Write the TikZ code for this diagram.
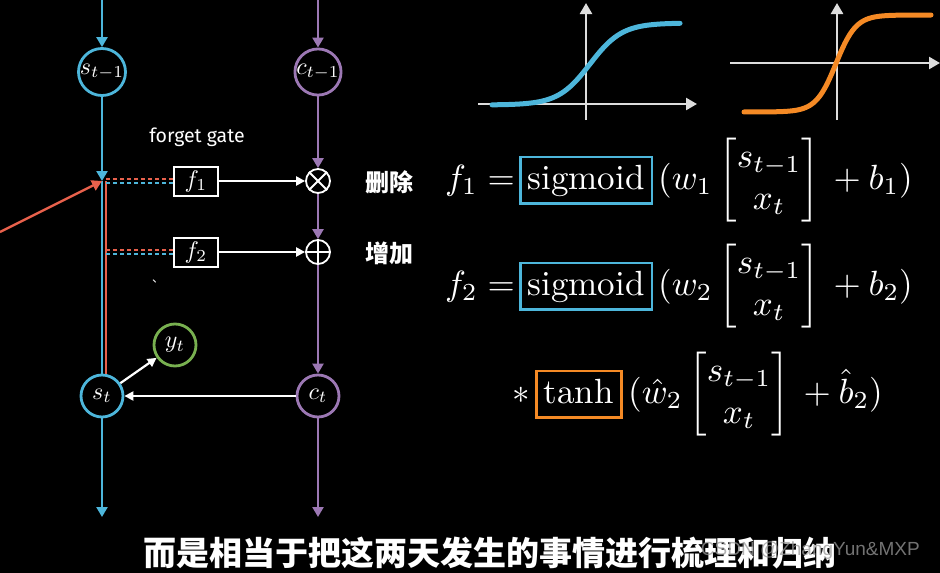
\documentclass[tikz,border=0pt]{standalone}
\usepackage{amsmath}
\usepackage{graphicx}
\usepackage{fontspec}
\usetikzlibrary{arrows.meta,calc}
\newfontfamily\cjk{Noto Sans CJK SC}
\newfontfamily\hand{Fira Sans}
\newfontfamily\wm{Liberation Sans}
\newcommand\eqscale[1]{\scalebox{3.5}{#1}}
\newcommand\lblscale[1]{\scalebox{2.4}{#1}}
\definecolor{cblue}{HTML}{4DB6DB}
\definecolor{cpurple}{HTML}{9C78B4}
\definecolor{cred}{HTML}{E8614C}
\definecolor{cgreen}{HTML}{78B050}
\definecolor{corange}{HTML}{F58A25}
\definecolor{axisgray}{HTML}{DDDDDD}
\tikzset{
  tip/.style={-{Triangle[width=11pt,length=10pt]}},
  wtip/.style={-{Triangle[width=9pt,length=9pt]}},
  cb/.style={circle, draw=cblue, line width=2.8pt, minimum size=42pt, inner sep=0pt, fill=black},
  cp/.style={cb, draw=cpurple},
  cg/.style={cb, draw=cgreen},
  gate/.style={draw=white, line width=2pt, minimum width=44pt, minimum height=29pt, inner sep=0pt},
  op/.style={circle, draw=white, line width=1.8pt, minimum size=24pt, inner sep=0pt, fill=black},
  bline/.style={cblue, line width=2.4pt},
  pline/.style={cpurple, line width=2.4pt},
  rline/.style={cred, line width=2.4pt},
  wline/.style={white, line width=2.2pt},
  rdash/.style={cred, line width=2.2pt, dash pattern=on 4pt off 3pt},
  bdash/.style={cblue, line width=2.2pt, dash pattern=on 4pt off 3pt},
  cjklabel/.style={font=\cjk\bfseries\fontsize{24}{28}\selectfont, inner sep=0pt},
  eq/.style={inner sep=0pt},
  sbox/.style={eq, draw=cblue, line width=2.6pt, text height=24.5pt, text depth=7pt, inner xsep=7.5pt, inner ysep=7.5pt},
  tbox/.style={sbox, draw=corange},
  axis/.style={axisgray, line width=2.5pt, -{Triangle[width=12pt,length=11pt]}},
}
\begin{document}
\begin{tikzpicture}[x=1pt,y=-1pt,color=white]
\fill[black] (0,0) rectangle (940,573);
\useasboundingbox (0,0) rectangle (940,573);
% ---------- left diagram ----------
\node[cb] (s0) at (102,72) {\lblscale{$s_{t-1}$}};
\node[cp] (c0) at (318,72) {\lblscale{$c_{t-1}$}};
\node[cb] (s1) at (102,396) {\lblscale{$s_t$}};
\node[cp] (c1) at (318,396) {\lblscale{$c_t$}};
\node[cg] (y) at (175,345) {\lblscale{$y_t$}};
\node[gate] (f1) at (196,181) {\lblscale{$f_1$}};
\node[gate] (f2) at (196,252) {\lblscale{$f_2$}};
\node[op] (mul) at (318,181) {};
\node[op] (add) at (318,252) {};
\draw[white, line width=1.8pt] (mul.north west) -- (mul.south east) (mul.north east) -- (mul.south west);
\draw[white, line width=1.8pt] (add.north) -- (add.south) (add.west) -- (add.east);
\coordinate (btop) at (102,0);
\coordinate (ptop) at (318,0);
\coordinate (bbot) at (102,517);
\coordinate (pbot) at (318,517);
\coordinate (j) at (102,181);
\coordinate (rj) at (106,181);
\coordinate (rstart) at (0,232);
% blue path
\draw[bline,tip] (btop) -- (s0);
\draw[bline,tip] (s0) -- (j);
\draw[bline] (j) -- (s1);
\draw[bline,tip] (s1) -- (bbot);
% red path
\draw[rline] (rj) -- (rj |- s1.north);
\draw[rline,tip] (rstart) -- (j);
% dashed inputs
\draw[rdash] ($(f1.west)+(0,-2)$) -- ++(-67,0);
\draw[bdash] ($(f1.west)+(0,2)$) -- ++(-67,0);
\draw[rdash] ($(f2.west)+(0,-2)$) -- ++(-67,0);
\draw[bdash] ($(f2.west)+(0,2)$) -- ++(-67,0);
% purple path
\draw[pline,tip] (ptop) -- (c0);
\draw[pline,tip] (c0) -- (mul);
\draw[pline,tip] (mul) -- (add);
\draw[pline,tip] (add) -- (c1);
\draw[pline,tip] (c1) -- (pbot);
% white arrows
\draw[wline,wtip] (f1) -- (mul);
\draw[wline,wtip] (f2) -- (add);
\draw[wline,wtip] (c1) -- (s1);
\draw[wline,wtip] (s1) -- (y);
% labels
\node[font=\hand\fontsize{19.5}{22}\selectfont, inner sep=0pt] (fg) at (197,137) {forget gate};
\node[cjklabel] (l1) at (389,182) {删除};
\node[cjklabel] (l2) at (389,253) {增加};
\node[font=\cjk\fontsize{12}{14}\selectfont, inner sep=0pt] (mark) at (158,281) {、};
% ---------- activation plots ----------
\coordinate (sxa) at (478,104); \coordinate (sxb) at (697,104);
\coordinate (sya) at (586,120); \coordinate (syb) at (586,3);
\draw[axis] (sxa) -- (sxb);
\draw[axis] (sya) -- (syb);
\draw[cblue, line width=5pt, line cap=round] plot[domain=492:680, samples=120, smooth] (\x, {105 - 82/(1+exp(-(\x-590)/16))});
\coordinate (txa) at (730,63); \coordinate (txb) at (940,63);
\coordinate (tya) at (837,120); \coordinate (tyb) at (837,3);
\draw[axis] (txa) -- (txb);
\draw[axis] (tya) -- (tyb);
\draw[corange, line width=5pt, line cap=round] plot[domain=744:931, samples=120, smooth] (\x, {112 - 97/(1+exp(-(\x-836)/10))});
% ---------- equations ----------
\node[eq, anchor=base east] (lhs1) at (515,189) {\eqscale{$f_1 =$}};
\node[sbox, anchor=base west] (sg1) at (519,189) {\eqscale{sigmoid}};
\node[eq, anchor=base west] (rhs1) at (658,189) {\eqscale{$(w_1\begin{bmatrix}s_{t-1}\\ x_t\end{bmatrix}\,+b_1)$}};
\node[eq, anchor=base east] (lhs2) at (515,295) {\eqscale{$f_2 =$}};
\node[sbox, anchor=base west] (sg2) at (519,295) {\eqscale{sigmoid}};
\node[eq, anchor=base west] (rhs2) at (658,295) {\eqscale{$(w_2\begin{bmatrix}s_{t-1}\\ x_t\end{bmatrix}\,+b_2)$}};
\node[eq, anchor=base east] (lhs3) at (530,403) {\eqscale{$*$}};
\node[tbox, anchor=base west] (th) at (535,403) {\eqscale{tanh}};
\node[eq, anchor=base west] (rhs3) at (628,403) {\eqscale{$(\hat{w}_2\begin{bmatrix}s_{t-1}\\ x_t\end{bmatrix}\,+\hat{b}_2)$}};
% ---------- subtitle and watermark ----------
\node[font=\cjk\bfseries\fontsize{33}{38}\selectfont, inner sep=0pt] (sub) at (490,553) {而是相当于把这两天发生的事情进行梳理和归纳};
\node[font=\wm\fontsize{19}{22}\selectfont, text=gray!80, opacity=0.75, inner sep=0pt, anchor=east] (wmk) at (920,551) {CSDN @ZhangYun\&MXP};
\end{tikzpicture}
\end{document}
